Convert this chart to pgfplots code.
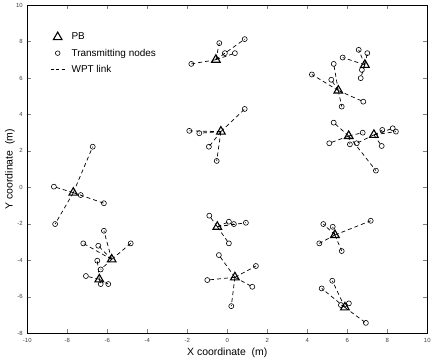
\documentclass[border=0pt]{standalone}
\usepackage{fontspec}
\setmainfont{Liberation Sans}
\usepackage{pgfplots}
\pgfplotsset{compat=1.18}
\begin{document}
\begin{tikzpicture}
\path[use as bounding box] (-27.3bp,-29.7bp) rectangle (408.7bp,333.3bp);
\begin{axis}[
  at={(0,0)}, anchor=south west,
  scale only axis, width=400bp, height=328.3bp,
  xmin=-10, xmax=10, ymin=-8, ymax=10,
  xtick={-10,-8,...,10}, ytick={-8,-6,...,10},
  tick align=inside, tick pos=both, major tick length=4bp,
  axis line style={line width=0.7bp},
  /pgf/number format/assume math mode=true,
  tick label style={font=\fontsize{6}{7}\selectfont, text=black!75},
  xticklabel style={yshift=-2bp},
  yticklabel style={xshift=-1bp},
  xlabel={X coordinate\ \ (m)}, ylabel={Y coordinate\ \ (m)},
  label style={font=\fontsize{10.5}{12}\selectfont},
  xlabel style={at={(axis description cs:0.5,-0.058)}, anchor=center},
  ylabel style={at={(axis description cs:-0.0433,0.5)}, anchor=center},
  legend style={draw=none, fill=none, at={(axis description cs:0.057,0.918)}, anchor=north west,
    font=\fontsize{10}{12}\selectfont, row sep=6.5bp, inner sep=0pt,
    nodes={inner sep=0.5bp}},
  legend cell align=left,
  /tikz/every odd column/.append style={column sep=6bp},
]
\addlegendimage{legend image code/.code={\draw[black, line width=1.1bp] plot[mark=triangle, mark size=5bp] coordinates {(7bp,0bp)};}}
\addlegendimage{legend image code/.code={\draw[black, line width=0.6bp] plot[mark=o, mark size=2.3bp] coordinates {(7bp,0bp)};}}
\addlegendimage{legend image code/.code={\draw[black, line width=0.8bp, dash pattern=on 3bp off 2.5bp] (0bp,0bp) -- (14bp,0bp);}}
\legend{PB, Transmitting nodes, WPT link}

% WPT links
\addplot[black, line width=0.7bp, dash pattern=on 4bp off 3bp, unbounded coords=jump, forget plot] coordinates {
(-0.57,7.0) (-0.4,7.91) (nan,nan) (-0.57,7.0) (0.87,8.13) (nan,nan) (-0.57,7.0) (-1.8,6.77) (nan,nan) (-0.57,7.0) (0.38,7.36) (nan,nan) (-0.57,7.0) (-0.12,7.36) (nan,nan)
(-0.32,3.06) (0.87,4.3) (nan,nan) (-0.32,3.06) (-1.9,3.1) (nan,nan) (-0.32,3.06) (-1.4,2.97) (nan,nan) (-0.32,3.06) (-0.92,2.23) (nan,nan) (-0.32,3.06) (-0.53,1.45) (nan,nan)
(6.88,6.72) (6.57,7.54) (nan,nan) (6.88,6.72) (7.0,7.36) (nan,nan) (6.88,6.72) (5.77,7.12) (nan,nan) (6.88,6.72) (6.73,6.44) (nan,nan) (6.88,6.72) (6.67,5.99) (nan,nan)
(5.55,5.31) (5.32,6.77) (nan,nan) (5.55,5.31) (4.23,6.19) (nan,nan) (5.55,5.31) (5.2,5.9) (nan,nan) (5.55,5.31) (6.8,4.7) (nan,nan) (5.55,5.31) (5.72,4.43) (nan,nan)
(6.07,2.82) (5.32,3.55) (nan,nan) (6.07,2.82) (5.1,2.42) (nan,nan) (6.07,2.82) (6.13,2.36) (nan,nan) (6.07,2.82) (7.43,0.92) (nan,nan) (6.07,2.82) (6.77,3.0) (nan,nan)
(7.33,2.88) (6.47,2.42) (nan,nan) (7.33,2.88) (7.72,2.27) (nan,nan) (7.33,2.88) (7.75,3.15) (nan,nan) (7.33,2.88) (8.27,3.24) (nan,nan) (7.33,2.88) (8.43,3.06) (nan,nan)
(-7.7,-0.29) (-6.73,2.23) (nan,nan) (-7.7,-0.29) (-8.67,0.04) (nan,nan) (-7.7,-0.29) (-7.33,-0.42) (nan,nan) (-7.7,-0.29) (-6.17,-0.87) (nan,nan) (-7.7,-0.29) (-8.61,-2.01) (nan,nan)
(-5.78,-3.95) (-6.17,-2.38) (nan,nan) (-5.78,-3.95) (-7.2,-3.07) (nan,nan) (-5.78,-3.95) (-6.45,-3.2) (nan,nan) (-5.78,-3.95) (-4.83,-3.07) (nan,nan) (-5.78,-3.95) (-6.33,-4.5) (nan,nan)
(-6.4,-5.04) (-7.07,-4.86) (nan,nan) (-6.4,-5.04) (-6.33,-5.3) (nan,nan) (-6.4,-5.04) (-5.95,-5.3) (nan,nan) (-6.4,-5.04) (-6.5,-4.02) (nan,nan)
(-0.5,-2.16) (-0.9,-1.55) (nan,nan) (-0.5,-2.16) (0.08,-1.88) (nan,nan) (-0.5,-2.16) (0.33,-2.01) (nan,nan) (-0.5,-2.16) (0.93,-1.94) (nan,nan) (-0.5,-2.16) (0.08,-3.07) (nan,nan)
(0.38,-4.93) (-0.42,-3.71) (nan,nan) (0.38,-4.93) (1.43,-4.31) (nan,nan) (0.38,-4.93) (-1.0,-5.08) (nan,nan) (0.38,-4.93) (1.25,-5.45) (nan,nan) (0.38,-4.93) (0.2,-6.51) (nan,nan)
(5.38,-2.61) (4.8,-2.01) (nan,nan) (5.38,-2.61) (5.27,-2.16) (nan,nan) (5.38,-2.61) (7.17,-1.83) (nan,nan) (5.38,-2.61) (4.6,-3.07) (nan,nan) (5.38,-2.61) (5.72,-3.49) (nan,nan)
(5.88,-6.58) (5.25,-5.12) (nan,nan) (5.88,-6.58) (4.72,-5.54) (nan,nan) (5.88,-6.58) (5.68,-6.45) (nan,nan) (5.88,-6.58) (6.08,-6.36) (nan,nan) (5.88,-6.58) (6.93,-7.43)
};

% Transmitting nodes
\addplot[only marks, mark=o, mark size=2.5bp, mark options={black, line width=0.6bp}, forget plot] coordinates {
(-0.4,7.91) (0.87,8.13) (-1.8,6.77) (0.38,7.36) (-0.12,7.36)
(0.87,4.3) (-1.9,3.1) (-1.4,2.97) (-0.92,2.23) (-0.53,1.45)
(6.57,7.54) (7.0,7.36) (5.77,7.12) (6.73,6.44) (6.67,5.99)
(5.32,6.77) (4.23,6.19) (5.2,5.9) (6.8,4.7) (5.72,4.43)
(5.32,3.55) (5.1,2.42) (6.13,2.36) (7.43,0.92) (6.77,3.0)
(6.47,2.42) (7.72,2.27) (7.75,3.15) (8.27,3.24) (8.43,3.06)
(-6.73,2.23) (-8.67,0.04) (-7.33,-0.42) (-6.17,-0.87) (-8.61,-2.01)
(-6.17,-2.38) (-7.2,-3.07) (-6.45,-3.2) (-4.83,-3.07) (-6.33,-4.5)
(-7.07,-4.86) (-6.33,-5.3) (-5.95,-5.3) (-6.5,-4.02)
(-0.9,-1.55) (0.08,-1.88) (0.33,-2.01) (0.93,-1.94) (0.08,-3.07)
(-0.42,-3.71) (1.43,-4.31) (-1.0,-5.08) (1.25,-5.45) (0.2,-6.51)
(4.8,-2.01) (5.27,-2.16) (7.17,-1.83) (4.6,-3.07) (5.72,-3.49)
(5.25,-5.12) (4.72,-5.54) (5.68,-6.45) (6.08,-6.36) (6.93,-7.43)
};

% Power beacons
\addplot[only marks, mark=triangle, mark size=5bp, mark options={black, line width=1.1bp}, forget plot] coordinates {
(-0.57,7.0) (-0.32,3.06) (6.88,6.72) (5.55,5.31) (6.07,2.82) (7.33,2.88) (-7.7,-0.29)
(-5.78,-3.95) (-6.4,-5.04) (-0.5,-2.16) (0.38,-4.93) (5.38,-2.61) (5.88,-6.58)
};
\end{axis}
\end{tikzpicture}
\end{document}
